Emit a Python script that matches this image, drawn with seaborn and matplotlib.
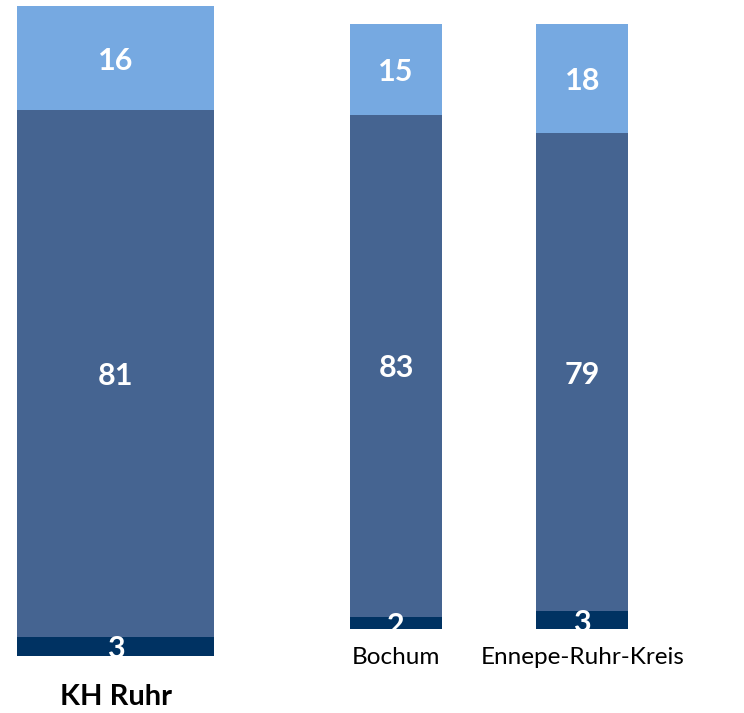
import pandas as pd
import matplotlib
matplotlib.use("Agg")
import matplotlib.pyplot as plt
import seaborn as sns

# Daten
regionen = ["KH Ruhr", "Bochum", "Ennepe-Ruhr-Kreis"]
unten = [3, 2, 3]
mitte = [81, 83, 79]
oben = [16, 15, 18]

farben = ["#003262", "#456491", "#76A9E1"]

sns.set_theme(style="white")
plt.rcParams["font.family"] = ["Lato", "DejaVu Sans"]

df = pd.DataFrame({"Region": regionen, "unten": unten, "mitte": mitte, "oben": oben})
df["c1"] = df["unten"]
df["c2"] = df["unten"] + df["mitte"]
df["c3"] = df["c2"] + df["oben"]

fig = plt.figure(figsize=(7.44, 7.13), dpi=100)
ax1 = fig.add_axes([0.0233, 0.0799, 0.2648, 0.9116])
ax2 = fig.add_axes([0.4704, 0.1174, 0.3741, 0.849])


def stapel(ax, daten, breite):
    # gestapelte Balken: zuerst Gesamthoehe, dann darueber kleinere
    for spalte, farbe in zip(["c3", "c2", "c1"], farben[::-1]):
        sns.barplot(data=daten, x="Region", y=spalte, color=farbe, width=breite,
                    saturation=1, linewidth=0, ax=ax)
    for i, (_, r) in enumerate(daten.iterrows()):
        untergrenze = 0
        for wert in [r["unten"], r["mitte"], r["oben"]]:
            ax.text(i, untergrenze + wert / 2, str(wert), ha="center", va="center_baseline",
                    color="white", fontsize=22, fontweight="bold")
            untergrenze += wert
    ax.set_ylim(0, 100)
    ax.set_xlabel("")
    ax.set_ylabel("")
    ax.set_yticks([])
    sns.despine(ax=ax, left=True, bottom=True)


stapel(ax1, df.iloc[[0]].reset_index(drop=True), 0.8)
ax1.set_xlim(-0.4, 0.4)
ax1.tick_params(axis="x", length=0, pad=20)
for t in ax1.get_xticklabels():
    t.set_fontsize(21)
    t.set_fontweight("bold")
    t.set_color("black")

stapel(ax2, df.iloc[1:].reset_index(drop=True), 0.494)
ax2.set_xlim(-0.247, 1.247)
ax2.tick_params(axis="x", length=0, pad=13)
for t in ax2.get_xticklabels():
    t.set_fontsize(17.5)
    t.set_color("black")

fig.savefig("out.png", dpi=100)
